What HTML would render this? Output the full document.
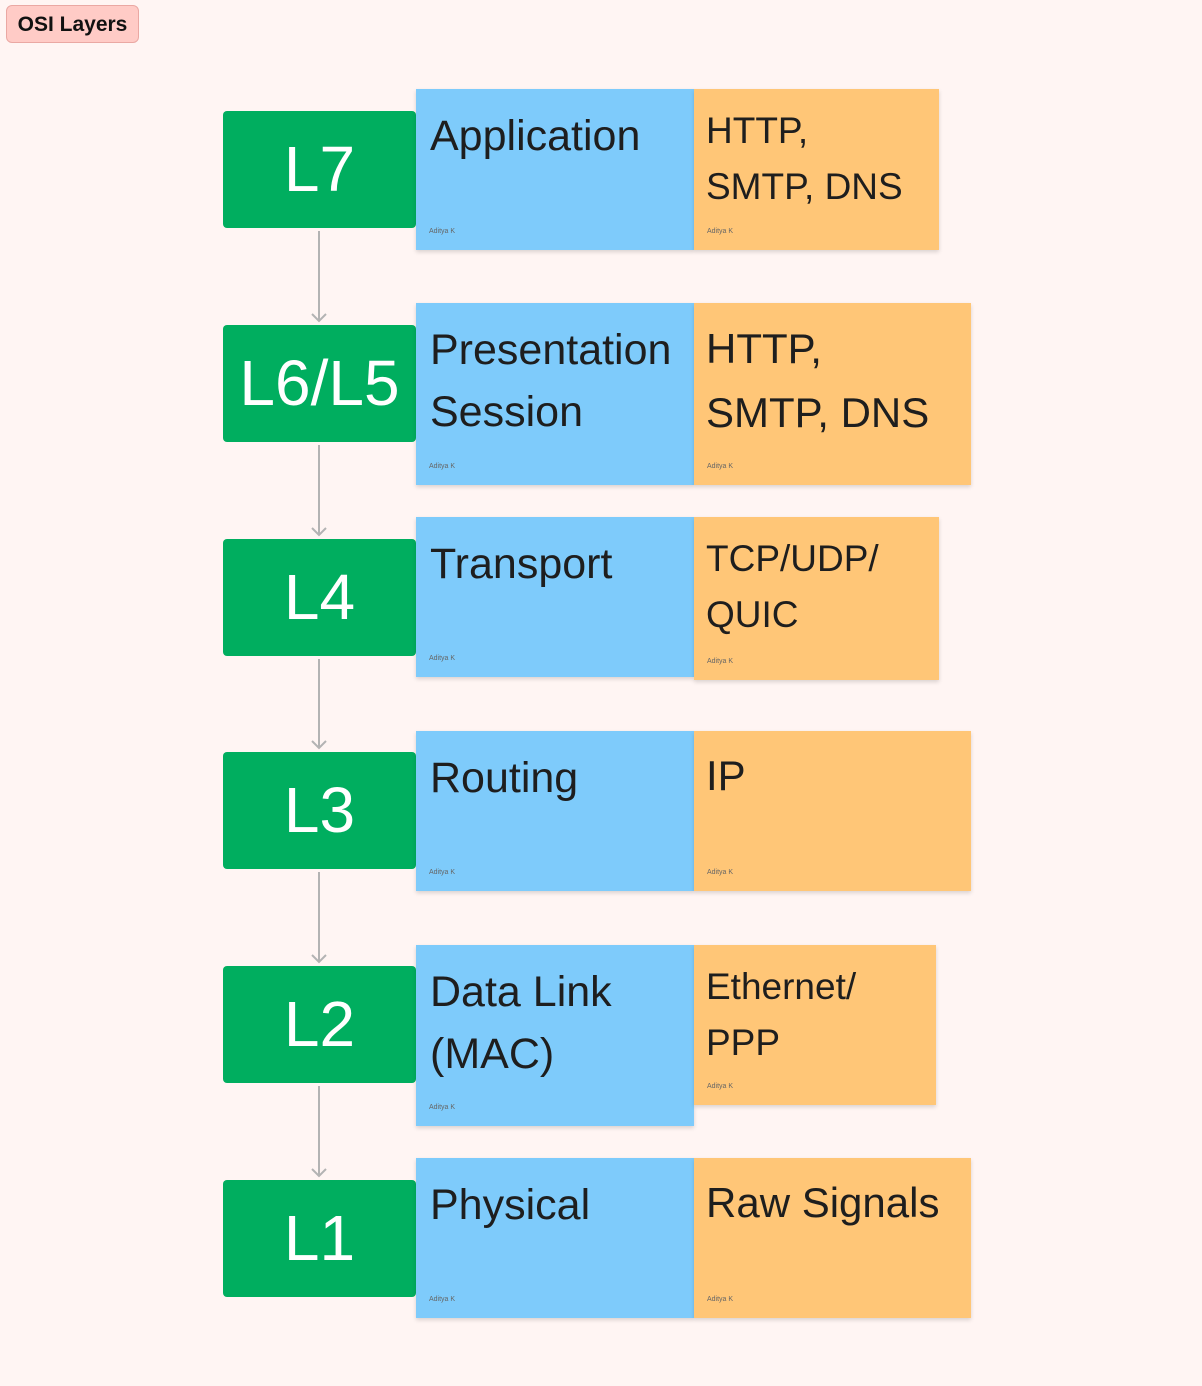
<!DOCTYPE html>
<html><head><meta charset="utf-8"><style>
body{margin:0;width:1202px;height:1386px;background:#fff5f3;position:relative;overflow:hidden;font-family:"Liberation Sans",sans-serif;}
.tag{position:absolute;left:6px;top:5px;width:133px;height:38px;background:#ffcbc6;border:1px solid #eaa8a3;border-radius:6px;font-size:21px;font-weight:bold;line-height:38px;text-align:center;color:#111;box-sizing:border-box}
.g{position:absolute;left:223px;width:193px;height:117px;background:#00ae5f;border-radius:4px;color:#fff;font-size:64px;text-align:center;line-height:117px;}
.b,.o{position:absolute;box-shadow:0 2px 4px rgba(0,0,0,0.15);color:#1e1e1e;box-sizing:border-box}
.b{left:416px;width:278px;background:#7ecbfb;padding:16px 0 0 14px;font-size:43px;line-height:62px}
.o{left:694px;background:#ffc677;padding:14px 0 0 12px}
.sig{position:absolute;left:13px;bottom:14px;font-size:7px;color:#666;line-height:8px}
.ar{position:absolute}
</style></head><body>
<div class="tag">OSI Layers</div>
<script>
const greenLabels=["L7","L6/L5","L4","L3","L2","L1"];
const greenTops=[111,325,539,752,966,1180];
const blueTexts=[["Application"],["Presentation","Session"],["Transport"],["Routing"],["Data Link","(MAC)"],["Physical"]];
const blueBoxes=[[89,161],[303,182],[517,160],[731,160],[945,181],[1158,160]];
const orangeTexts=[["HTTP,","SMTP, DNS"],["HTTP,","SMTP, DNS"],["TCP/UDP/","QUIC"],["IP"],["Ethernet/","PPP"],["Raw Signals"]];
const orangeBoxes=[[89,245,161,37,56],[303,277,182,42,64],[517,245,163,37,56],[731,277,160,42,62],[945,242,160,37,56],[1158,277,160,42,62]];
const names=["l7","l6-l5","l4","l3","l2","l1"];
const body=document.body;
for(let i=0;i<6;i++){
  const g=document.createElement('div');g.className='g';g.style.top=greenTops[i]+'px';g.textContent=greenLabels[i];
  
  
  body.appendChild(g);
  const b=document.createElement('div');b.className='b';b.style.top=blueBoxes[i][0]+'px';b.style.height=blueBoxes[i][1]+'px';
  b.innerHTML=blueTexts[i].join('<br>')+'<div class="sig">Aditya K</div>';
  
  
  body.appendChild(b);
  const o=document.createElement('div');o.className='o';const ob=orangeBoxes[i];
  o.style.top=ob[0]+'px';o.style.width=ob[1]+'px';o.style.height=ob[2]+'px';o.style.fontSize=ob[3]+'px';o.style.lineHeight=ob[4]+'px';
  o.innerHTML=orangeTexts[i].join('<br>')+'<div class="sig">Aditya K</div>';
  
  
  body.appendChild(o);
  if(i<5){
    const y1=greenTops[i]+120,y2=greenTops[i+1]-4;
    const s=document.createElementNS('http://www.w3.org/2000/svg','svg');
    s.setAttribute('class','ar');s.setAttribute('width','20');s.setAttribute('height',(y2-y1+2));
    s.style.left='309px';s.style.top=y1+'px';
    const h=y2-y1;
    s.innerHTML='<line x1="10" y1="0" x2="10" y2="'+h+'" stroke="#b3b3b3" stroke-width="2"/><polyline points="3,'+(h-7)+' 10,'+h+' 17,'+(h-7)+'" fill="none" stroke="#b3b3b3" stroke-width="2"/>';
    
    
    body.appendChild(s);
  }
}
</script>
</body></html>
